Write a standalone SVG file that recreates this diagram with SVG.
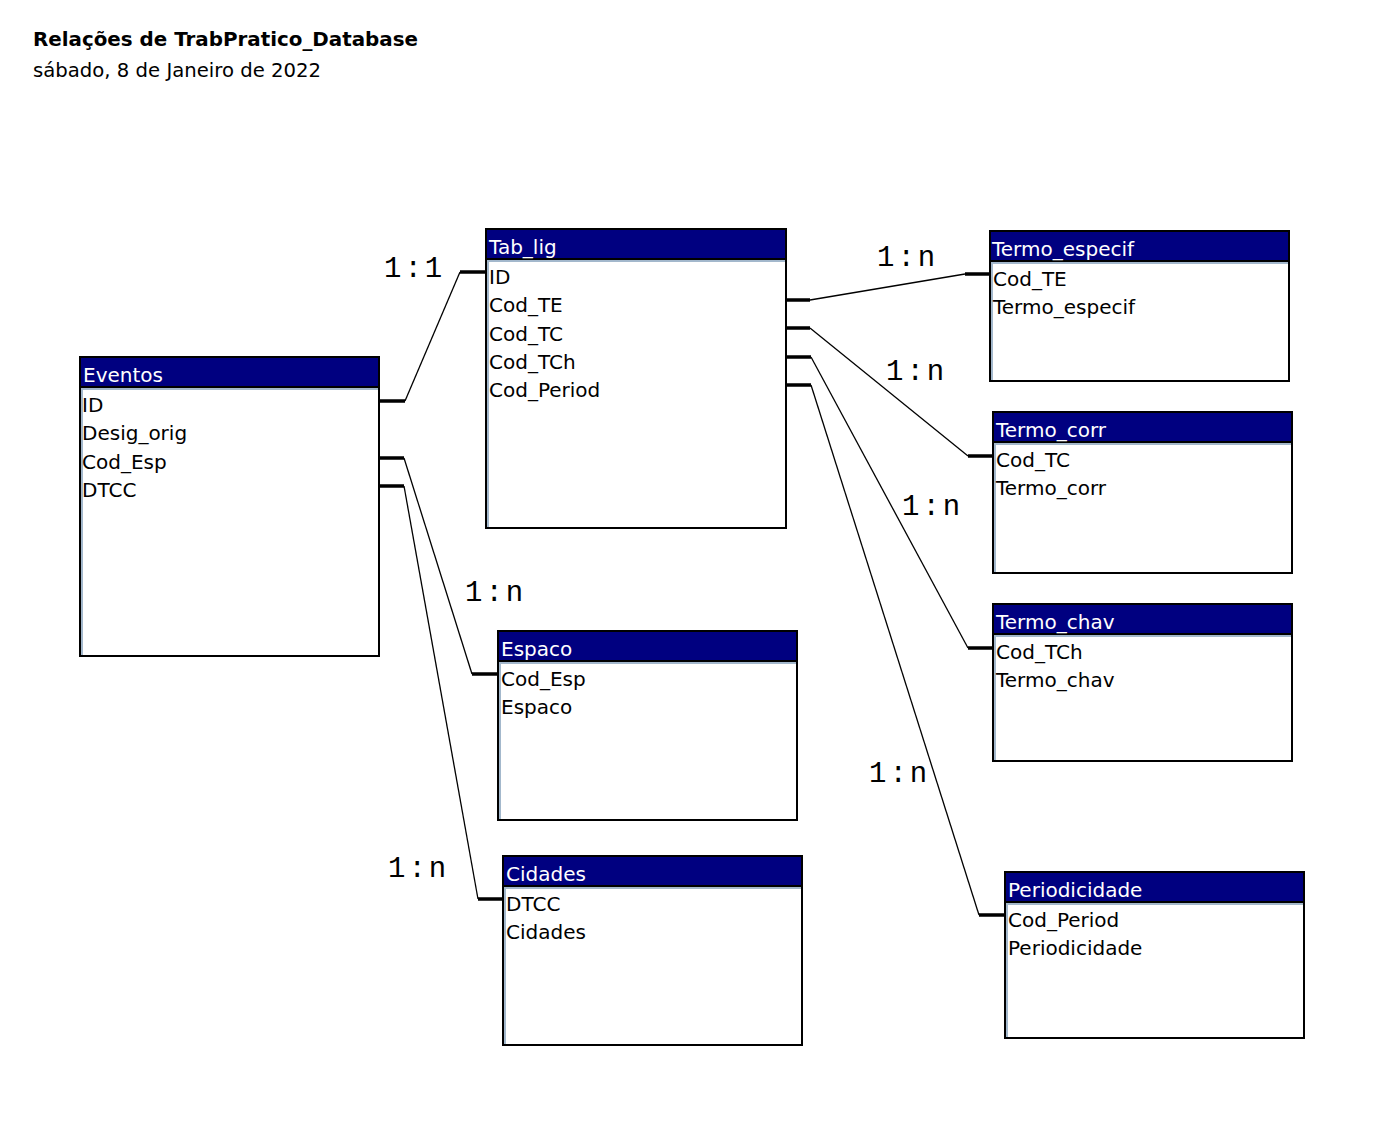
<svg xmlns="http://www.w3.org/2000/svg" width="1385" height="1121" viewBox="0 0 1385 1121">
<style>
.bg{fill:#ffffff}
.frame{fill:#ffffff;stroke:#000000;stroke-width:2}
.hdr{fill:#000080}
.hl{stroke:#000000;stroke-width:2}
.hl2{stroke:#a3b8cc;stroke-width:2}
.ttl{font-family:"DejaVu Sans",Verdana,sans-serif;font-size:20px;fill:#ffffff}
.fld{font-family:"DejaVu Sans",Verdana,sans-serif;font-size:20px;fill:#000000}
.title{font-family:"DejaVu Sans",Verdana,sans-serif;font-size:20px;font-weight:bold;fill:#000000}
.sub{font-family:"DejaVu Sans",Verdana,sans-serif;font-size:20px;fill:#000000}
.card{font-family:"Liberation Mono","Courier New",monospace;font-size:29px;letter-spacing:3px;fill:#000000}
.thin{fill:none;stroke:#000000;stroke-width:1.3}
.thick{fill:none;stroke:#000000;stroke-width:3.5}
</style>
<rect class="bg" x="0" y="0" width="1385" height="1121"/>
<text class="title" x="33" y="46" textLength="385" lengthAdjust="spacingAndGlyphs">Relações de TrabPratico_Database</text>
<text class="sub" x="33" y="77" textLength="288" lengthAdjust="spacingAndGlyphs">sábado, 8 de Janeiro de 2022</text>

<g id="connectors">
<path class="thick" d="M380,401 H405 M460,272 H485"/>
<path class="thin" d="M405,401 L460,272"/>
<path class="thick" d="M787,300 H810 M965,274 H989"/>
<path class="thin" d="M810,300 L965,274"/>
<path class="thick" d="M787,328 H810 M968,456 H992"/>
<path class="thin" d="M810,328 L968,456"/>
<path class="thick" d="M787,357 H811 M968,648 H992"/>
<path class="thin" d="M811,357 L968,648"/>
<path class="thick" d="M787,385 H811 M979,915 H1004"/>
<path class="thin" d="M811,385 L979,915"/>
<path class="thick" d="M380,458 H404 M472,674 H497"/>
<path class="thin" d="M404,458 L472,674"/>
<path class="thick" d="M380,486 H404 M478,899 H502"/>
<path class="thin" d="M404,486 L478,899"/>
<text class="card" x="384" y="277">1:1</text>
<text class="card" x="877" y="266">1:n</text>
<text class="card" x="886" y="380">1:n</text>
<text class="card" x="902" y="515">1:n</text>
<text class="card" x="465" y="601">1:n</text>
<text class="card" x="869" y="782">1:n</text>
<text class="card" x="388" y="877">1:n</text>
</g>

<g id="eventos">
<rect class="frame" x="80" y="357" width="299" height="299"/>
<rect class="hdr" x="81" y="358" width="297" height="28"/>
<line class="hl" x1="81" y1="387" x2="378" y2="387"/>
<line class="hl2" x1="81" y1="389" x2="378" y2="389"/>
<line class="hl2" x1="82" y1="389" x2="82" y2="655"/>
<text class="ttl" x="83" y="382">Eventos</text>
<text class="fld" x="82" y="412">ID</text>
<text class="fld" x="82" y="440">Desig_orig</text>
<text class="fld" x="82" y="469">Cod_Esp</text>
<text class="fld" x="82" y="497">DTCC</text>
</g>

<g id="tab_lig">
<rect class="frame" x="486" y="229" width="300" height="299"/>
<rect class="hdr" x="487" y="230" width="298" height="28"/>
<line class="hl" x1="487" y1="259" x2="785" y2="259"/>
<line class="hl2" x1="487" y1="261" x2="785" y2="261"/>
<line class="hl2" x1="488" y1="261" x2="488" y2="527"/>
<text class="ttl" x="489" y="254">Tab_lig</text>
<text class="fld" x="489" y="284">ID</text>
<text class="fld" x="489" y="312">Cod_TE</text>
<text class="fld" x="489" y="341">Cod_TC</text>
<text class="fld" x="489" y="369">Cod_TCh</text>
<text class="fld" x="489" y="397">Cod_Period</text>
</g>

<g id="termo_especif">
<rect class="frame" x="990" y="231" width="299" height="150"/>
<rect class="hdr" x="991" y="232" width="297" height="28"/>
<line class="hl" x1="991" y1="261" x2="1288" y2="261"/>
<line class="hl2" x1="991" y1="263" x2="1288" y2="263"/>
<line class="hl2" x1="992" y1="263" x2="992" y2="380"/>
<text class="ttl" x="992" y="256">Termo_especif</text>
<text class="fld" x="993" y="286">Cod_TE</text>
<text class="fld" x="993" y="314">Termo_especif</text>
</g>

<g id="termo_corr">
<rect class="frame" x="993" y="412" width="299" height="161"/>
<rect class="hdr" x="994" y="413" width="297" height="28"/>
<line class="hl" x1="994" y1="442" x2="1291" y2="442"/>
<line class="hl2" x1="994" y1="444" x2="1291" y2="444"/>
<line class="hl2" x1="995" y1="444" x2="995" y2="572"/>
<text class="ttl" x="996" y="437">Termo_corr</text>
<text class="fld" x="996" y="467">Cod_TC</text>
<text class="fld" x="996" y="495">Termo_corr</text>
</g>

<g id="termo_chav">
<rect class="frame" x="993" y="604" width="299" height="157"/>
<rect class="hdr" x="994" y="605" width="297" height="28"/>
<line class="hl" x1="994" y1="634" x2="1291" y2="634"/>
<line class="hl2" x1="994" y1="636" x2="1291" y2="636"/>
<line class="hl2" x1="995" y1="636" x2="995" y2="760"/>
<text class="ttl" x="996" y="629">Termo_chav</text>
<text class="fld" x="996" y="659">Cod_TCh</text>
<text class="fld" x="996" y="687">Termo_chav</text>
</g>

<g id="espaco">
<rect class="frame" x="498" y="631" width="299" height="189"/>
<rect class="hdr" x="499" y="632" width="297" height="28"/>
<line class="hl" x1="499" y1="661" x2="796" y2="661"/>
<line class="hl2" x1="499" y1="663" x2="796" y2="663"/>
<line class="hl2" x1="500" y1="663" x2="500" y2="819"/>
<text class="ttl" x="501" y="656">Espaco</text>
<text class="fld" x="501" y="686">Cod_Esp</text>
<text class="fld" x="501" y="714">Espaco</text>
</g>

<g id="cidades">
<rect class="frame" x="503" y="856" width="299" height="189"/>
<rect class="hdr" x="504" y="857" width="297" height="28"/>
<line class="hl" x1="504" y1="886" x2="801" y2="886"/>
<line class="hl2" x1="504" y1="888" x2="801" y2="888"/>
<line class="hl2" x1="505" y1="888" x2="505" y2="1044"/>
<text class="ttl" x="506" y="881">Cidades</text>
<text class="fld" x="506" y="911">DTCC</text>
<text class="fld" x="506" y="939">Cidades</text>
</g>

<g id="periodicidade">
<rect class="frame" x="1005" y="872" width="299" height="166"/>
<rect class="hdr" x="1006" y="873" width="297" height="28"/>
<line class="hl" x1="1006" y1="902" x2="1303" y2="902"/>
<line class="hl2" x1="1006" y1="904" x2="1303" y2="904"/>
<line class="hl2" x1="1007" y1="904" x2="1007" y2="1037"/>
<text class="ttl" x="1008" y="897">Periodicidade</text>
<text class="fld" x="1008" y="927">Cod_Period</text>
<text class="fld" x="1008" y="955">Periodicidade</text>
</g>
</svg>
